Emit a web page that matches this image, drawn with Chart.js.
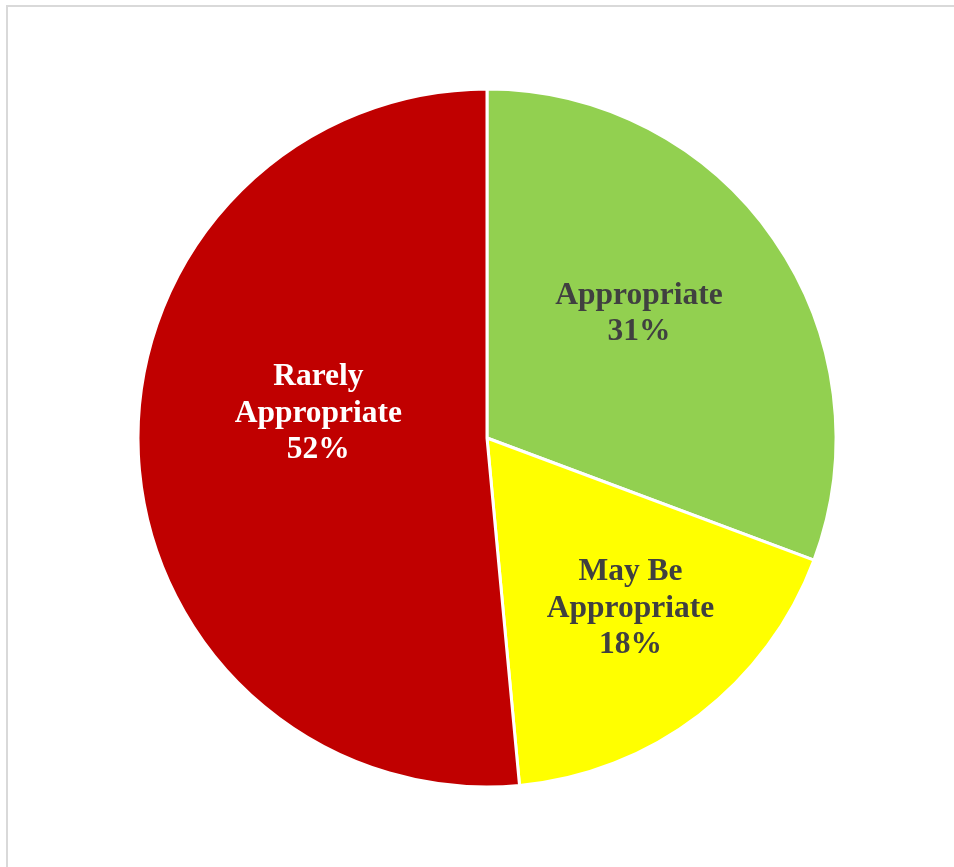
<!DOCTYPE html>
<html>
<head>
<meta charset="utf-8">
<script src="https://cdn.jsdelivr.net/npm/chart.js@4.4.1/dist/chart.umd.min.js"></script>
<style>
  html, body { margin: 0; padding: 0; background: #fff; overflow: hidden; }
  #frame {
    position: absolute; left: 6px; top: 5px;
    width: 1000px; height: 920px;
    border: 2px solid #d9d9d9; box-sizing: border-box;
  }
  #chart { position: absolute; left: 0; top: 0; }
</style>
</head>
<body>
<div id="frame"></div>
<canvas id="chart" width="954" height="867"></canvas>
<script>
// slices, clockwise from 12 o'clock
const categories = ['Appropriate', 'May Be Appropriate', 'Rarely Appropriate'];
const shares = [31, 18, 52];
const labelLines = [['Appropriate'], ['May Be', 'Appropriate'], ['Rarely', 'Appropriate']];

const sliceColors = ['#92D050', '#FFFF00', '#C00000'];
const labelColors = ['#404040', '#404040', '#FFFFFF'];
// label placement: fraction of radius and nudge (degrees) from the slice middle
const labelRadius = [0.57, 0.63, 0.49];
const labelTurn = [-5.4, -3.3, 12.2];

const sliceLabels = {
    id: 'sliceLabels',
    afterDatasetsDraw(chart) {
        const ctx = chart.ctx;
        const meta = chart.getDatasetMeta(0);
        ctx.save();
        ctx.font = 'bold 31.5px "Liberation Serif", "Times New Roman", serif';
        ctx.textAlign = 'center';
        ctx.textBaseline = 'middle';
        meta.data.forEach((arc, i) => {
            const p = arc.getProps(['x', 'y', 'startAngle', 'endAngle', 'outerRadius'], true);
            const mid = (p.startAngle + p.endAngle) / 2 + labelTurn[i] * Math.PI / 180;
            const r = p.outerRadius * labelRadius[i];
            const x = p.x + Math.cos(mid) * r;
            const y = p.y + Math.sin(mid) * r + 4;
            const lines = labelLines[i].concat([shares[i] + '%']);
            const lh = 36.5;
            ctx.fillStyle = labelColors[i];
            lines.forEach((t, k) => {
                ctx.fillText(t, x, y + (k - (lines.length - 1) / 2) * lh);
            });
        });
        ctx.restore();
    }
};

new Chart(document.getElementById('chart'), {
    type: 'pie',
    data: {
        labels: categories,
        datasets: [{
            data: shares,
            backgroundColor: sliceColors,
            borderColor: '#FFFFFF',
            borderWidth: 3,
            radius: 349
        }]
    },
    options: {
        responsive: false,
        animation: false,
        layout: {
            padding: { left: 139, right: 119, top: 90, bottom: 81 }
        },
        plugins: {
            legend: { display: false },
            tooltip: { enabled: false }
        }
    },
    plugins: [sliceLabels]
});
</script>
</body>
</html>
